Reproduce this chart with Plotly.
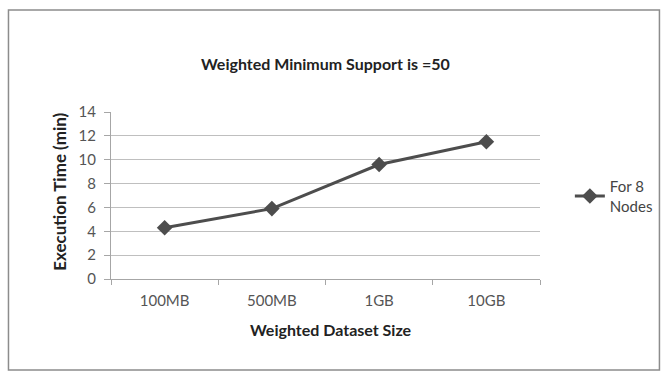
import plotly.graph_objects as go

# Dataset sizes and measured execution times (minutes) for 8 nodes
sizes = ["100MB", "500MB", "1GB", "10GB"]
exec_time = [4.3, 5.9, 9.6, 11.5]
y_ticks = [0, 2, 4, 6, 8, 10, 12, 14]

series_name = "For 8<br>Nodes"
chart_title = "Weighted Minimum Support is =50"
x_title = "Weighted Dataset Size"
y_title = "Execution Time (min)"

FONT = "Lato"
LINE = "#4d4d4d"

fig = go.Figure()
fig.add_trace(go.Scatter(
    x=sizes, y=exec_time, mode="lines+markers", name=series_name,
    line=dict(color=LINE, width=3),
    marker=dict(symbol="diamond", size=12, color=LINE),
))

W, H = 670, 375
L, R, T, B = 111, 128, 112, 96
pw, ph = W - L - R, H - T - B

def px(x):
    return (x - L) / pw

def py(y):
    return (H - B - y) / ph

fig.update_layout(
    width=W, height=H,
    margin=dict(l=L, r=R, t=T, b=B),
    paper_bgcolor="white", plot_bgcolor="white",
    font=dict(family=FONT, size=12, color="#555555"),
    showlegend=True,
    legend=dict(x=px(572), y=py(170), xanchor="left", yanchor="top",
                font=dict(family=FONT, size=15, color="#444444"),
                bgcolor="rgba(0,0,0,0)", itemwidth=30,
                tracegroupgap=0),
    xaxis=dict(
        type="category", range=[-0.5, len(sizes) - 0.5],
        showgrid=False, showline=True,
        linecolor="#a6a6a6", linewidth=1,
        ticks="outside", tickson="boundaries", ticklen=5, tickcolor="#a6a6a6",
        ticklabelstandoff=8,
        tickfont=dict(family=FONT, size=15, color="#555555"),
    ),
    yaxis=dict(
        range=[0, 14], tickvals=y_ticks, showgrid=True, gridcolor="#bfbfbf",
        gridwidth=1, showline=True, linecolor="#a6a6a6", linewidth=1,
        ticks="outside", ticklen=6, tickcolor="#a6a6a6", zeroline=False,
        ticklabelstandoff=5,
        tickfont=dict(family=FONT, size=15, color="#555555"),
    ),
    annotations=[
        dict(text=f"<b>{chart_title}</b>", x=px(326), y=py(52),
             xref="paper", yref="paper", showarrow=False,
             font=dict(family=FONT, size=16, color="#222222")),
        dict(text=f"<b>{x_title}</b>", x=px(332), y=py(341),
             xref="paper", yref="paper", showarrow=False,
             font=dict(family=FONT, size=16, color="#222222")),
        dict(text=f"<b>{y_title}</b>", x=px(46), y=py(192), textangle=-90,
             xref="paper", yref="paper", showarrow=False,
             font=dict(family=FONT, size=17, color="#222222")),
    ],
    shapes=[
        dict(type="rect", xref="paper", yref="paper",
             x0=px(8), x1=px(662), y0=py(370), y1=py(10),
             line=dict(color="#8c8c8c", width=1.5), layer="below"),
    ],
)

fig.write_html("out.html")
